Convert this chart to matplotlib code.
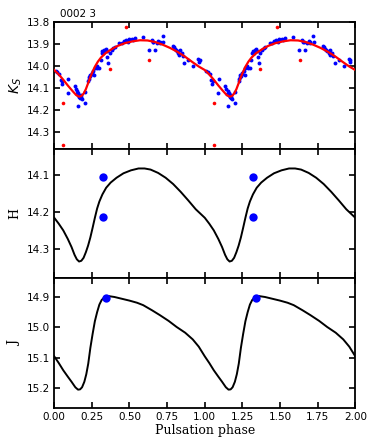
import matplotlib
matplotlib.use("Agg")
import matplotlib.pyplot as plt
import numpy as np

# ---- Ks panel data (phase in [0,1), repeated at +1) ----
ks_phase = [0.011, 0.020, 0.033, 0.044, 0.051, 0.053, 0.093, 0.089, 0.137, 0.144,
            0.153, 0.159, 0.166, 0.171, 0.155, 0.182, 0.177, 0.204, 0.204, 0.226,
            0.233, 0.237, 0.248, 0.259, 0.264, 0.270, 0.281, 0.286, 0.299, 0.310,
            0.315, 0.326, 0.332, 0.343, 0.348, 0.352, 0.359, 0.370, 0.381, 0.392,
            0.403, 0.432, 0.447, 0.476, 0.487, 0.496, 0.514, 0.536, 0.587, 0.629,
            0.647, 0.658, 0.669, 0.680, 0.691, 0.702, 0.720, 0.724, 0.786, 0.795,
            0.802, 0.813, 0.824, 0.835, 0.846, 0.853, 0.862, 0.890, 0.924, 0.957,
            0.963, 0.968, 0.160, 0.165, 0.150, 0.175, 0.228, 0.240, 0.250, 0.318,
            0.325, 0.462, 0.500, 0.520, 0.655, 0.700, 0.808, 0.830]
ks_mag = [14.021, 14.025, 14.036, 14.063, 14.081, 14.070, 14.060, 14.120, 14.090, 14.105,
          14.111, 14.123, 14.141, 14.146, 14.179, 14.149, 14.131, 14.116, 14.169, 14.070,
          14.051, 14.040, 14.030, 14.021, 14.040, 14.010, 14.002, 14.010, 14.010, 13.972,
          13.942, 13.939, 13.927, 13.924, 13.934, 13.957, 13.984, 13.942, 13.927, 13.919,
          13.912, 13.897, 13.894, 13.882, 13.889, 13.879, 13.879, 13.874, 13.869, 13.927,
          13.882, 13.889, 13.927, 13.894, 13.886, 13.892, 13.863, 13.889, 13.907, 13.915,
          13.924, 13.930, 13.942, 13.927, 13.942, 13.954, 13.984, 13.972, 14.002, 13.969,
          13.980, 13.972, 14.132, 14.138, 14.125, 14.140, 14.060, 14.045, 14.035, 13.932,
          13.940, 13.885, 13.883, 13.880, 13.890, 13.897, 13.928, 13.948]
ks_out_phase = [0.060, 0.060, 0.480, 0.370, 0.630]
ks_out_mag = [14.169, 14.357, 13.824, 14.015, 13.974]

ks_fit_phase = [0.000, 0.030, 0.060, 0.090, 0.120, 0.145, 0.165, 0.180, 0.195, 0.210,
                0.225, 0.240, 0.255, 0.270, 0.290, 0.310, 0.340, 0.380, 0.420, 0.470,
                0.520, 0.570, 0.620, 0.670, 0.720, 0.770, 0.820, 0.870, 0.920, 0.960,
                1.000]
ks_fit_mag = [14.018, 14.038, 14.062, 14.088, 14.112, 14.131, 14.139, 14.136, 14.125, 14.105,
              14.078, 14.050, 14.025, 14.003, 13.980, 13.962, 13.942, 13.924, 13.909, 13.896,
              13.888, 13.883, 13.884, 13.891, 13.903, 13.918, 13.936, 13.958, 13.983, 14.002,
              14.018]

# ---- H panel ----
h_fit_phase = [0.000, 0.030, 0.060, 0.090, 0.115, 0.135, 0.150, 0.165, 0.180, 0.195,
               0.210, 0.225, 0.240, 0.255, 0.270, 0.285, 0.300, 0.320, 0.345, 0.375,
               0.414, 0.460, 0.510, 0.560, 0.600, 0.640, 0.690, 0.740, 0.790, 0.840,
               0.890, 0.940, 1.000]
h_fit_mag = [14.215, 14.231, 14.249, 14.272, 14.294, 14.315, 14.327, 14.333, 14.331, 14.323,
             14.308, 14.290, 14.268, 14.242, 14.215, 14.190, 14.171, 14.152, 14.134, 14.120,
             14.107, 14.095, 14.087, 14.082, 14.082, 14.085, 14.094, 14.107, 14.124, 14.145,
             14.168, 14.192, 14.215]
h_obs_phase = [0.322, 0.322]
h_obs_mag = [14.106, 14.213]

# ---- J panel ----
j_fit_phase = [0.000, 0.030, 0.060, 0.090, 0.115, 0.140, 0.158, 0.172, 0.185, 0.200,
               0.213, 0.226, 0.240, 0.255, 0.270, 0.285, 0.300, 0.315, 0.335, 0.360,
               0.400, 0.450, 0.500, 0.550, 0.591, 0.650, 0.702, 0.760, 0.813, 0.870,
               0.920, 0.960, 1.000]
j_fit_mag = [15.096, 15.118, 15.142, 15.163, 15.180, 15.198, 15.206, 15.205, 15.198, 15.180,
             15.155, 15.120, 15.068, 15.022, 14.980, 14.950, 14.925, 14.910, 14.900, 14.897,
             14.900, 14.906, 14.912, 14.919, 14.927, 14.944, 14.960, 14.979, 14.999, 15.018,
             15.040, 15.064, 15.096]
j_obs_phase = [0.343]
j_obs_mag = [14.903]

xticks = [0.0, 0.25, 0.5, 0.75, 1.0, 1.25, 1.5, 1.75, 2.0]
ks_yticks = [13.8, 13.9, 14.0, 14.1, 14.2, 14.3]
h_yticks = [14.1, 14.2, 14.3]
j_yticks = [14.9, 15.0, 15.1, 15.2]


def two(p):
    p = np.asarray(p, dtype=float)
    return np.concatenate([p, p + 1.0])


def twom(m):
    m = np.asarray(m, dtype=float)
    return np.concatenate([m, m])


fig = plt.figure(figsize=(3.74, 4.48), dpi=100)
L, W = 0.145, 0.805
ax1 = fig.add_axes([L, 0.667, W, 0.284])
ax2 = fig.add_axes([L, 0.379, W, 0.288])
ax3 = fig.add_axes([L, 0.089, W, 0.290])

for ax in (ax1, ax2, ax3):
    ax.set_xlim(0, 2.0)
    ax.set_xticks(xticks)
    ax.tick_params(direction='in', top=True, right=True, length=4.5, width=1.2,
                   labelsize=7.5, pad=3)
    for s in ax.spines.values():
        s.set_linewidth(1.3)

# Ks
ax1.plot(two(ks_phase), twom(ks_mag), 'o', color='blue', ms=2.8, mew=0, zorder=2)
ax1.plot(two(ks_out_phase), twom(ks_out_mag), 'o', color='red', ms=2.6, mew=0, zorder=2)
ax1.plot(two(ks_fit_phase), twom(ks_fit_mag), '-', color='red', lw=1.6, zorder=3)
ax1.set_ylim(14.377, 13.8)
ax1.set_yticks(ks_yticks)
ax1.set_yticklabels(['%.1f' % v for v in ks_yticks])
ax1.set_xticklabels([])
ax1.set_ylabel(r'$K_S$', fontsize=10, labelpad=2)
ax1.text(0.02, 1.02, '0002 3', transform=ax1.transAxes, ha='left', va='bottom',
         fontsize=7.5)

# H
ax2.plot(two(h_fit_phase), twom(h_fit_mag), '-', color='black', lw=1.4)
ax2.plot(two(h_obs_phase), twom(h_obs_mag), 'o', color='blue', ms=6, mew=0)
ax2.set_ylim(14.378, 14.03)
ax2.set_yticks(h_yticks)
ax2.set_yticklabels(['%.1f' % v for v in h_yticks])
ax2.set_xticklabels([])
ax2.set_ylabel('H', fontsize=9, family='DejaVu Serif', labelpad=4)

# J
ax3.plot(two(j_fit_phase), twom(j_fit_mag), '-', color='black', lw=1.4)
ax3.plot(two(j_obs_phase), twom(j_obs_mag), 'o', color='blue', ms=6, mew=0)
ax3.set_ylim(15.267, 14.838)
ax3.set_yticks(j_yticks)
ax3.set_yticklabels(['%.1f' % v for v in j_yticks])
ax3.set_xticklabels(['%.2f' % v for v in xticks])
ax3.set_ylabel('J', fontsize=9, family='DejaVu Serif', labelpad=4)
ax3.set_xlabel('Pulsation phase', fontsize=9, family='DejaVu Serif', labelpad=1)

fig.savefig('out.png', dpi=100)
